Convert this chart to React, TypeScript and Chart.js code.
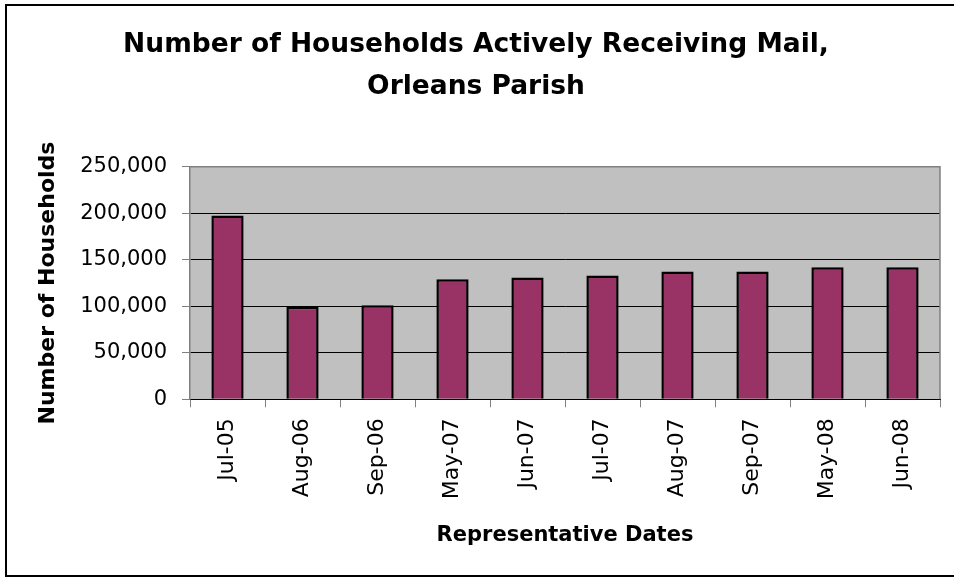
import React, { useEffect, useRef } from "react";
import { Chart, registerables } from "chart.js";

Chart.register(...registerables);

const categories = ["Jul-05", "Aug-06", "Sep-06", "May-07", "Jun-07", "Jul-07", "Aug-07", "Sep-07", "May-08", "Jun-08"];
const households = [197500, 99500, 101000, 129000, 131000, 133000, 137500, 137500, 142000, 142000];
const titleLines = ["Number of Households Actively Receiving Mail,", "Orleans Parish"];
const yAxisTitle = "Number of Households";
const xAxisTitle = "Representative Dates";
const yMax = 250000;
const yStep = 50000;

const FONT = "'DejaVu Sans', 'Liberation Sans', Arial, sans-serif";

const plotBg = {
  id: "plotBg",
  beforeDraw(chart: any) {
    const { ctx, chartArea } = chart;
    if (!chartArea) return;
    ctx.save();
    ctx.fillStyle = "#C0C0C0";
    ctx.fillRect(chartArea.left, chartArea.top, chartArea.right - chartArea.left, chartArea.bottom - chartArea.top);
    ctx.restore();
  },
  afterDatasetsDraw(chart: any) {
    const { ctx, chartArea } = chart;
    if (!chartArea) return;
    ctx.save();
    ctx.strokeStyle = "#808080";
    ctx.lineWidth = 1.5;
    ctx.beginPath();
    ctx.moveTo(chartArea.left, chartArea.top);
    ctx.lineTo(chartArea.right, chartArea.top);
    ctx.lineTo(chartArea.right, chartArea.bottom);
    ctx.stroke();
    ctx.restore();
  },
};

export default function App() {
  const ref = useRef<HTMLCanvasElement | null>(null);

  useEffect(() => {
    if (!ref.current) return;
    const chart = new Chart(ref.current, {
      type: "bar",
      data: {
        labels: categories,
        datasets: [
          {
            data: households,
            backgroundColor: "#993366",
            borderColor: "#000000",
            borderWidth: 2.5,
            barPercentage: 0.43,
            categoryPercentage: 1,
          },
        ],
      },
      plugins: [plotBg],
      options: {
        responsive: false,
        animation: false,
        devicePixelRatio: 1,
        layout: { padding: { left: 12, right: 14, top: 0, bottom: 0 } },
        plugins: {
          legend: { display: false },
          tooltip: { enabled: false },
          title: {
            display: true,
            text: titleLines,
            color: "#000",
            font: { family: FONT, size: 26.5, weight: "bold", lineHeight: 1.55 },
            padding: { top: 25, bottom: 59.6 },
          },
        },
        scales: {
          x: {
            afterFit(scale: any) {
              scale.height = 177.7;
            },
            grid: {
              offset: true,
              drawOnChartArea: false,
              drawTicks: true,
              tickLength: 8,
              tickColor: "#808080",
            },
            border: { display: true, color: "#000000", width: 1 },
            ticks: {
              minRotation: 90,
              maxRotation: 90,
              autoSkip: false,
              padding: 11,
              color: "#000",
              font: { family: FONT, size: 22 },
            },
            title: {
              display: true,
              text: xAxisTitle,
              color: "#000",
              font: { family: FONT, size: 21, weight: "bold", lineHeight: 1.2 },
              padding: { top: 0, bottom: 29 },
            },
          },
          y: {
            min: 0,
            max: yMax,
            afterFit(scale: any) {
              scale.width = 178;
            },
            grid: {
              color: "#000000",
              lineWidth: 1,
              drawTicks: true,
              tickLength: 8,
              tickColor: "#808080",
            },
            border: { display: true, color: "#808080", width: 1.5 },
            ticks: {
              stepSize: yStep,
              padding: 15,
              color: "#000",
              font: { family: FONT, size: 21 },
            },
            title: {
              display: true,
              text: yAxisTitle,
              color: "#000",
              font: { family: FONT, size: 22, weight: "bold", lineHeight: 1.2 },
              padding: { top: 23, bottom: 0 },
            },
          },
        },
      },
    });
    return () => chart.destroy();
  }, []);

  return (
    <div style={{ position: "fixed", left: 0, top: 0, width: 954, height: 577, overflow: "hidden", background: "#fff" }}>
      <canvas ref={ref} width={954} height={577} style={{ position: "absolute", left: 0, top: 0, width: 954, height: 577 }} />
      <div
        style={{
          position: "absolute",
          left: 5,
          top: 4,
          width: 1000,
          height: 573,
          border: "2px solid #000",
          boxSizing: "border-box",
          pointerEvents: "none",
        }}
      />
    </div>
  );
}
